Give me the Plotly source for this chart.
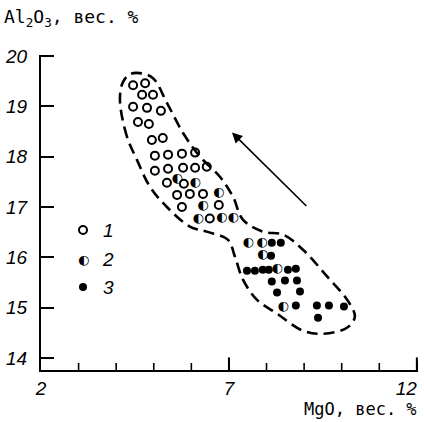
import plotly.graph_objects as go

# --- data (MgO, Al2O3 in wt.%) ---
type1_mgo = [4.45, 4.77, 4.69, 4.98, 4.45, 4.82, 5.19, 4.58, 4.87, 4.95, 5.24, 5.03, 5.38, 5.75,
             6.10, 5.03, 5.38, 5.78, 6.10, 6.41, 5.35, 5.80, 5.62, 5.96, 6.31, 5.75, 6.73, 6.49]
type1_al = [19.42, 19.46, 19.23, 19.23, 18.99, 18.97, 18.91, 18.69, 18.65, 18.33, 18.37, 18.02, 18.04, 18.06,
            18.08, 17.72, 17.76, 17.78, 17.78, 17.80, 17.48, 17.46, 17.24, 17.26, 17.26, 17.00, 17.04, 16.77]

type2_mgo = [5.62, 6.10, 6.73, 6.31, 6.18, 6.81, 7.11, 7.51, 7.88, 7.90, 8.28, 8.44]
type2_al = [17.56, 17.48, 17.28, 17.02, 16.77, 16.79, 16.79, 16.29, 16.29, 16.05, 15.77, 15.02]

type3_mgo = [8.14, 8.38, 8.12, 7.48, 7.69, 7.90, 8.06, 8.57, 8.78, 8.14, 8.49, 8.81, 8.28, 8.89,
             8.78, 9.34, 9.66, 10.06, 9.37]
type3_al = [16.29, 16.29, 16.03, 15.73, 15.73, 15.75, 15.75, 15.75, 15.77, 15.52, 15.54, 15.54, 15.30, 15.32,
            15.04, 15.04, 15.04, 15.02, 14.80]

envelope_mgo = [4.55, 4.29, 4.10, 4.18, 4.37, 4.63, 4.98, 5.35, 5.78, 6.23, 6.76, 7.11, 7.37, 7.90, 8.44,
                8.97, 9.61, 10.14, 10.35, 10.14, 9.50, 8.97, 8.28, 7.74, 7.37, 7.16, 6.97, 6.41, 5.96,
                5.35, 4.90, 4.55]
envelope_al = [17.94, 18.39, 19.13, 19.48, 19.64, 19.66, 19.56, 19.07, 18.47, 18.00, 17.60, 17.20, 16.75, 16.51,
               16.45, 16.15, 15.62, 15.16, 14.82, 14.60, 14.48, 14.54, 14.88, 15.16, 15.56, 16.01, 16.35,
               16.51, 16.61, 17.00, 17.40, 17.94]

arrow_tail = (9.10, 16.99)
arrow_head = (7.08, 18.48)

x_range = [2, 12.03]
y_range = [13.76, 20.02]

x_major_ticks = [7, 12]
x_minor_ticks = [3, 4, 5, 6, 8, 9, 10, 11]

legend_labels = ["1", "2", "3"]

HALF = "\u25D0"
tick_font = dict(family="Liberation Sans", size=19, color="black", style="italic")
title_font = dict(family="DejaVu Sans Mono", size=18, color="black")
half_font = dict(family="DejaVu Sans", size=13, color="black")

# plot area in pixels (for placing the key in paper coordinates)
L, T, W, H = 41, 55, 377, 315


def px_x(p):
    return (p - L) / W


def px_y(p):
    return (T + H - p) / H


fig = go.Figure()

# envelope
fig.add_trace(go.Scatter(x=envelope_mgo, y=envelope_al, mode="lines",
                         line=dict(color="black", width=2.6, dash="11px,6px", shape="spline"),
                         hoverinfo="skip", showlegend=False))

fig.add_trace(go.Scatter(x=type1_mgo, y=type1_al, mode="markers", name=legend_labels[0],
                         marker=dict(symbol="circle-open", size=8, color="black", line=dict(width=2)),
                         showlegend=False))
fig.add_trace(go.Scatter(x=type2_mgo, y=type2_al, mode="text", name=legend_labels[1],
                         text=[HALF] * len(type2_mgo),
                         textfont=half_font, textposition="middle center", showlegend=False))
fig.add_trace(go.Scatter(x=type3_mgo, y=type3_al, mode="markers", name=legend_labels[2],
                         marker=dict(symbol="circle", size=8, color="black"),
                         showlegend=False))

# upward x-axis tick marks (vertical line markers sitting on the bottom edge, lower half clipped)
fig.add_trace(go.Scatter(x=x_minor_ticks, y=[y_range[0]] * len(x_minor_ticks), mode="markers",
                         marker=dict(symbol="line-ns", size=10, color="black",
                                     line=dict(color="black", width=1.6)),
                         cliponaxis=True, hoverinfo="skip", showlegend=False))
fig.add_trace(go.Scatter(x=x_major_ticks, y=[y_range[0]] * len(x_major_ticks), mode="markers",
                         marker=dict(symbol="line-ns", size=18, color="black",
                                     line=dict(color="black", width=2)),
                         cliponaxis=True, hoverinfo="skip", showlegend=False))

# key (drawn in paper coordinates)
key_rows_px = [230, 259, 287]
key_sym_x = px_x(83)
key_lab_x = px_x(108)
fig.add_shape(type="circle", xref="paper", yref="paper", xsizemode="pixel", ysizemode="pixel",
              xanchor=key_sym_x, yanchor=px_y(key_rows_px[0]), x0=-4, x1=4, y0=-4, y1=4,
              line=dict(color="black", width=2), fillcolor="rgba(0,0,0,0)")
fig.add_annotation(x=key_sym_x, y=px_y(key_rows_px[1]), xref="paper", yref="paper",
                   text=HALF, showarrow=False, font=half_font, xanchor="center", yanchor="middle")
fig.add_shape(type="circle", xref="paper", yref="paper", xsizemode="pixel", ysizemode="pixel",
              xanchor=key_sym_x, yanchor=px_y(key_rows_px[2]), x0=-4, x1=4, y0=-4, y1=4,
              line=dict(color="black", width=0), fillcolor="black")
for lab, row in zip(legend_labels, key_rows_px):
    fig.add_annotation(x=key_lab_x, y=px_y(row), xref="paper", yref="paper", text=lab,
                       showarrow=False, font=tick_font, xanchor="center", yanchor="middle")

fig.add_annotation(x=arrow_head[0], y=arrow_head[1], ax=arrow_tail[0], ay=arrow_tail[1],
                   xref="x", yref="y", axref="x", ayref="y", text="", showarrow=True,
                   arrowhead=2, arrowsize=1.3, arrowwidth=1.6, arrowcolor="black")

fig.add_annotation(x=px_x(2), y=px_y(18), xref="paper", yref="paper",
                   xanchor="left", yanchor="middle", showarrow=False,
                   text="Al<sub>2</sub>O<sub>3</sub>, вес. %", font=title_font)
fig.add_annotation(x=px_x(419), y=px_y(409), xref="paper", yref="paper",
                   xanchor="right", yanchor="middle", showarrow=False,
                   text="MgO, вес. %", font=dict(title_font, size=17))

fig.update_layout(
    width=424, height=422,
    margin=dict(l=L, r=424 - L - W, t=T, b=422 - T - H),
    paper_bgcolor="white", plot_bgcolor="white",
    xaxis=dict(range=x_range, showgrid=False, zeroline=False, showline=True, linecolor="black",
               linewidth=2, ticks="inside", ticklen=9, tickwidth=2, tickcolor="black",
               tickmode="linear", tick0=2, dtick=5,
               labelalias={"12": "12\u2007\u2007"},
               tickfont=tick_font, ticklabelstandoff=0, ticklabeloverflow="allow",
               automargin=False, fixedrange=True, layer="above traces"),
    yaxis=dict(range=y_range, showgrid=False, zeroline=False, showline=True, linecolor="black",
               linewidth=2, ticks="inside", ticklen=13, tickwidth=2, tickcolor="black",
               tickmode="linear", tick0=14, dtick=1, tickfont=tick_font, ticklabelstandoff=8,
               ticklabeloverflow="allow", automargin=False, fixedrange=True),
    showlegend=False,
)

fig.write_html("out.html")
